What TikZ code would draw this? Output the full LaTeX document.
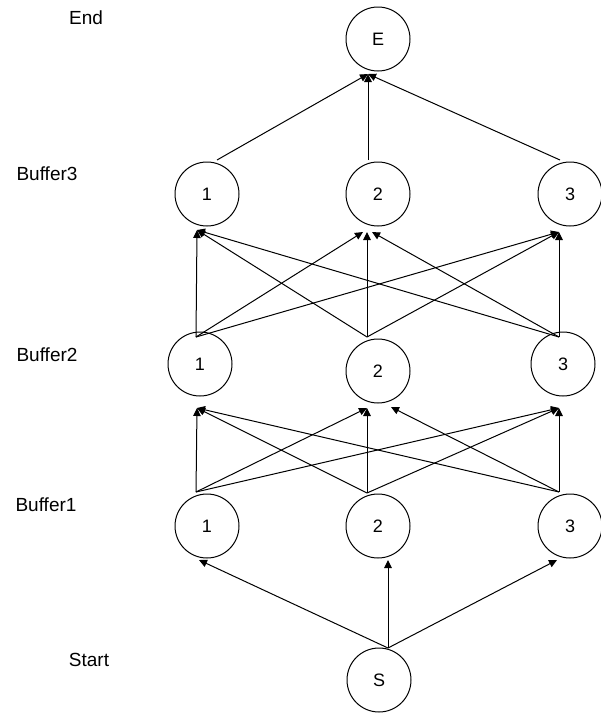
\documentclass[tikz,border=0pt]{standalone}
\usepackage{fontspec}
\setmainfont{Liberation Sans}
\usetikzlibrary{arrows.meta}
\begin{document}
\begin{tikzpicture}[x=1pt,y=-1pt,
  circ/.style={circle,draw,line width=1pt,minimum size=64pt,inner sep=0pt,font=\fontsize{18}{20}\selectfont},
  lbl/.style={font=\fontsize{19}{22}\selectfont,inner sep=0pt},
  conn/.style={line width=1pt,-{Triangle[length=8pt,width=7.5pt]}}]
\useasboundingbox[fill=white] (0,0) rectangle (601,715);
% labels
\node[lbl] (lend) at (86,18) {End};
\node[lbl] (lb3) at (47,174) {Buffer3};
\node[lbl] (lb2) at (47,355) {Buffer2};
\node[lbl] (lb1) at (46,505) {Buffer1};
\node[lbl] (lstart) at (89,660) {Start};
% nodes
\node[circ] (e) at (378,39) {E};
\node[circ] (b31) at (207,194) {1};
\node[circ] (b32) at (378,194) {2};
\node[circ] (b33) at (570,194) {3};
\node[circ] (b21) at (200,364) {1};
\node[circ] (b22) at (378,371) {2};
\node[circ] (b23) at (563,364) {3};
\node[circ] (b11) at (207,526) {1};
\node[circ] (b12) at (378,526) {2};
\node[circ] (b13) at (570,526) {3};
\node[circ] (s) at (379,680) {S};
% ports
\coordinate (so) at (388,648);
\coordinate (b11i) at (199,560);
\coordinate (b12i) at (388,560);
\coordinate (b13i) at (557,560);
\coordinate (b11o) at (196,492);
\coordinate (b12o) at (367,493);
\coordinate (b13o) at (559,492);
\coordinate (b21i) at (197,408);
\coordinate (b22ia) at (367,408);
\coordinate (b22ib) at (391,407);
\coordinate (b23i) at (559,408);
\coordinate (b21o) at (196,337);
\coordinate (b22o) at (367,337);
\coordinate (b23o) at (559,337);
\coordinate (b31i) at (197,230);
\coordinate (b32ia) at (363,232);
\coordinate (b32ib) at (367,232);
\coordinate (b32ic) at (372,232);
\coordinate (b33i) at (559,232);
\coordinate (b31o) at (217,160);
\coordinate (b32o) at (368,160);
\coordinate (b33o) at (560,160);
\coordinate (ei) at (368,74);
% Start -> Buffer1
\draw[conn] (so) -- (b11i);
\draw[conn] (so) -- (b12i);
\draw[conn] (so) -- (b13i);
% Buffer1 -> Buffer2
\draw[conn] (b11o) -- (b21i);
\draw[conn] (b11o) -- (b22ia);
\draw[conn] (b11o) -- (b23i);
\draw[conn] (b12o) -- (b21i);
\draw[conn] (b12o) -- (b22ia);
\draw[conn] (b12o) -- (b23i);
\draw[conn] (b13o) -- (b21i);
\draw[conn] (b13o) -- (b22ib);
\draw[conn] (b13o) -- (b23i);
% Buffer2 -> Buffer3
\draw[conn] (b21o) -- (b31i);
\draw[conn] (b21o) -- (b32ia);
\draw[conn] (b21o) -- (b33i);
\draw[conn] (b22o) -- (b31i);
\draw[conn] (b22o) -- (b32ib);
\draw[conn] (b22o) -- (b33i);
\draw[conn] (b23o) -- (b31i);
\draw[conn] (b23o) -- (b32ic);
\draw[conn] (b23o) -- (b33i);
% Buffer3 -> End
\draw[conn] (b31o) -- (ei);
\draw[conn] (b32o) -- (ei);
\draw[conn] (b33o) -- (ei);
\end{tikzpicture}
\end{document}
